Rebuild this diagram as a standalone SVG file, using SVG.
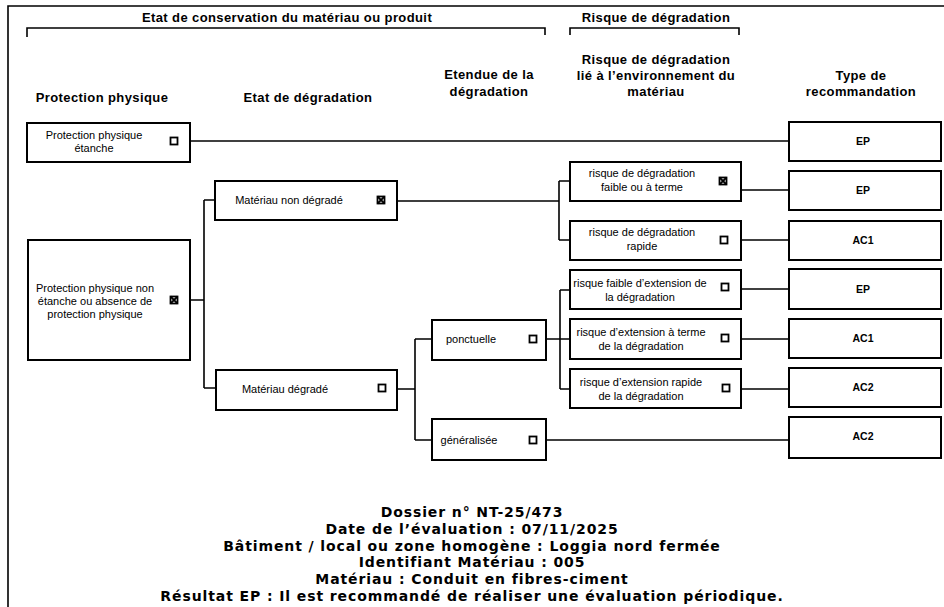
<svg xmlns="http://www.w3.org/2000/svg" width="944" height="607" viewBox="0 0 944 607">
  <defs>
    <style>
      .frame { fill: none; stroke: #000; stroke-width: 1.6; }
      .box { fill: #fff; stroke: #000; stroke-width: 2; }
      .wire { fill: none; stroke: #000; stroke-width: 1.6; }
      .hdr { font-family: "Liberation Sans", Arial, sans-serif; font-weight: bold; font-size: 13px; letter-spacing: 0.4px; text-anchor: middle; fill: #000; }
      .lbl { font-family: "Liberation Sans", Arial, sans-serif; font-size: 11px; text-anchor: middle; fill: #000; }
      .rec { font-family: "Liberation Sans", Arial, sans-serif; font-weight: bold; font-size: 10.5px; text-anchor: middle; fill: #000; }
      .info { font-family: "DejaVu Sans", Verdana, sans-serif; font-weight: bold; font-size: 14px; letter-spacing: 0.9px; text-anchor: middle; fill: #000; }
      .cb { fill: #fff; stroke: #000; stroke-width: 1.8; }
      .cbx { stroke: #000; stroke-width: 1.8; }
    </style>
    <g id="cb-empty"><rect class="cb" x="-3.5" y="-3.5" width="7" height="7"/></g>
    <g id="cb-checked">
      <rect class="cb" x="-3.5" y="-3.5" width="7" height="7"/>
      <path class="cbx" d="M-3.5,-3.5 L3.5,3.5 M3.5,-3.5 L-3.5,3.5"/>
    </g>
  </defs>

  <rect width="944" height="607" fill="#fff"/>

  <!-- outer frame (top and left edges) -->
  <path class="frame" d="M8,607 V6 H944"/>

  <!-- group headers with brackets -->
  <g id="headers">
    <text class="hdr" x="287" y="22">Etat de conservation du matériau ou produit</text>
    <path class="frame" d="M27,37 V28 H545 V35"/>
    <text class="hdr" x="656" y="22">Risque de dégradation</text>
    <path class="frame" d="M570,35 V28 H739 V35"/>

    <text class="hdr" x="102" y="102">Protection physique</text>
    <text class="hdr" x="308" y="102">Etat de dégradation</text>
    <text class="hdr" x="489" y="79">Etendue de la</text>
    <text class="hdr" x="489" y="96">dégradation</text>
    <text class="hdr" x="656" y="64">Risque de dégradation</text>
    <text class="hdr" x="656" y="80">lié à l’environnement du</text>
    <text class="hdr" x="656" y="96">matériau</text>
    <text class="hdr" x="861" y="80">Type de</text>
    <text class="hdr" x="861" y="96">recommandation</text>
  </g>

  <!-- connectors -->
  <g id="connectors">
    <path class="wire" d="M190,141 H789"/>
    <path class="wire" d="M190,300 H204 M204,200 V388 M204,200 H215 M204,388 H216"/>
    <path class="wire" d="M397,201 H559 M559,181 V240 M559,181 H570 M559,240 H570"/>
    <path class="wire" d="M741,190 H789"/>
    <path class="wire" d="M741,240 H789"/>
    <path class="wire" d="M397,389 H415 M415,339 V440 M415,339 H432 M415,440 H432"/>
    <path class="wire" d="M546,339 H570 M560,290 V389 M560,290 H570 M560,389 H570"/>
    <path class="wire" d="M741,289 H789"/>
    <path class="wire" d="M741,339 H789"/>
    <path class="wire" d="M741,389 H789"/>
    <path class="wire" d="M546,440 H789"/>
  </g>

  <!-- protection physique -->
  <g id="pp-etanche">
    <rect class="box" x="27" y="123" width="163" height="39"/>
    <text class="lbl" x="94" y="139">Protection physique</text>
    <text class="lbl" x="94" y="152">étanche</text>
    <use href="#cb-empty" x="174" y="141"/>
  </g>
  <g id="pp-non-etanche">
    <rect class="box" x="28" y="240" width="162" height="120"/>
    <text class="lbl" x="95" y="292">Protection physique non</text>
    <text class="lbl" x="95" y="305">étanche ou absence de</text>
    <text class="lbl" x="95" y="318">protection physique</text>
    <use href="#cb-checked" x="174" y="300"/>
  </g>

  <!-- etat de degradation -->
  <g id="mat-non-degrade">
    <rect class="box" x="215" y="181" width="182" height="39"/>
    <text class="lbl" x="289" y="204">Matériau non dégradé</text>
    <use href="#cb-checked" x="381" y="200"/>
  </g>
  <g id="mat-degrade">
    <rect class="box" x="216" y="370" width="181" height="40"/>
    <text class="lbl" x="285" y="393">Matériau dégradé</text>
    <use href="#cb-empty" x="382" y="388"/>
  </g>

  <!-- etendue -->
  <g id="ponctuelle">
    <rect class="box" x="432" y="320" width="114" height="40"/>
    <text class="lbl" x="471" y="343">ponctuelle</text>
    <use href="#cb-empty" x="533" y="339"/>
  </g>
  <g id="generalisee">
    <rect class="box" x="432" y="419" width="114" height="41"/>
    <text class="lbl" x="469" y="444">généralisée</text>
    <use href="#cb-empty" x="533" y="440"/>
  </g>

  <!-- risque -->
  <g id="risque-faible-terme">
    <rect class="box" x="570" y="162" width="171" height="39"/>
    <text class="lbl" x="642" y="177">risque de dégradation</text>
    <text class="lbl" x="642" y="191">faible ou à terme</text>
    <use href="#cb-checked" x="723" y="181"/>
  </g>
  <g id="risque-rapide">
    <rect class="box" x="570" y="221" width="171" height="39"/>
    <text class="lbl" x="642" y="236">risque de dégradation</text>
    <text class="lbl" x="642" y="250">rapide</text>
    <use href="#cb-empty" x="724" y="240"/>
  </g>
  <g id="risque-ext-faible">
    <rect class="box" x="570" y="270" width="171" height="39"/>
    <text class="lbl" x="640" y="287">risque faible d’extension de</text>
    <text class="lbl" x="640" y="301">la dégradation</text>
    <use href="#cb-empty" x="725" y="287"/>
  </g>
  <g id="risque-ext-terme">
    <rect class="box" x="570" y="319" width="171" height="40"/>
    <text class="lbl" x="641" y="336">risque d’extension à terme</text>
    <text class="lbl" x="641" y="350">de la dégradation</text>
    <use href="#cb-empty" x="725" y="338"/>
  </g>
  <g id="risque-ext-rapide">
    <rect class="box" x="570" y="369" width="171" height="39"/>
    <text class="lbl" x="641" y="386">risque d’extension rapide</text>
    <text class="lbl" x="641" y="400">de la dégradation</text>
    <use href="#cb-empty" x="726" y="388"/>
  </g>

  <!-- type de recommandation -->
  <g id="rec-1"><rect class="box" x="789" y="122" width="152" height="39"/><text class="rec" x="863" y="145">EP</text></g>
  <g id="rec-2"><rect class="box" x="789" y="171" width="152" height="39"/><text class="rec" x="863" y="194">EP</text></g>
  <g id="rec-3"><rect class="box" x="789" y="221" width="152" height="39"/><text class="rec" x="863" y="244">AC1</text></g>
  <g id="rec-4"><rect class="box" x="789" y="269" width="152" height="40"/><text class="rec" x="863" y="293">EP</text></g>
  <g id="rec-5"><rect class="box" x="789" y="319" width="152" height="39"/><text class="rec" x="863" y="342">AC1</text></g>
  <g id="rec-6"><rect class="box" x="789" y="368" width="152" height="39"/><text class="rec" x="863" y="391">AC2</text></g>
  <g id="rec-7"><rect class="box" x="789" y="417" width="152" height="41"/><text class="rec" x="863" y="440">AC2</text></g>

  <!-- evaluation summary -->
  <g id="summary">
    <text class="info" x="472" y="517">Dossier n° NT-25/473</text>
    <text class="info" x="472" y="534">Date de l’évaluation : 07/11/2025</text>
    <text class="info" x="472" y="551">Bâtiment / local ou zone homogène : Loggia nord fermée</text>
    <text class="info" x="472" y="567">Identifiant Matériau : 005</text>
    <text class="info" x="472" y="584">Matériau : Conduit en fibres-ciment</text>
    <text class="info" x="472" y="601">Résultat EP : Il est recommandé de réaliser une évaluation périodique.</text>
  </g>
</svg>
